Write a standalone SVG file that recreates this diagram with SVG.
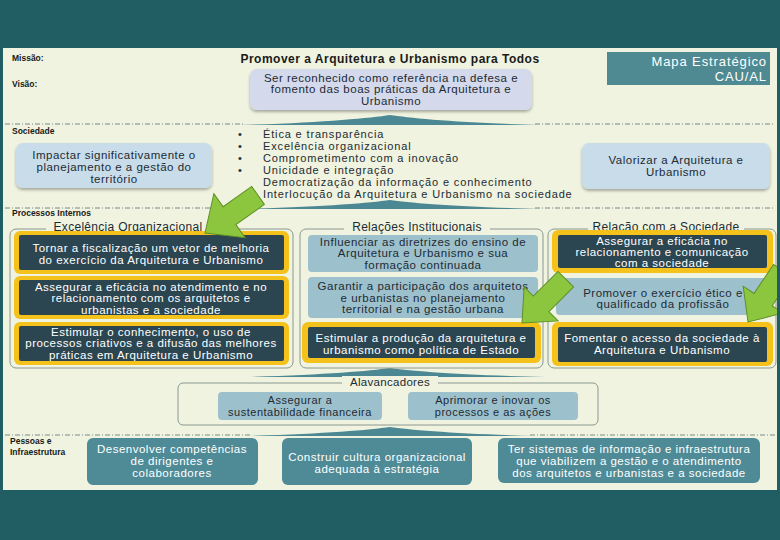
<svg xmlns="http://www.w3.org/2000/svg" width="780" height="540" viewBox="0 0 780 540">
<defs>
<style>
text{font-family:"Liberation Sans",Arial,sans-serif}
.lab{font-size:8.5px;font-weight:bold;fill:#1a1a1a}
.t{font-size:11.5px;letter-spacing:0.5px;text-anchor:middle}
.w{fill:#ffffff}
.d{fill:#1d2b33}
.dk{fill:#2c4651}
.yl{fill:#f4c21b}
.lb{fill:#9dc0cd}
.bt{fill:#4f8b97}
.fr{fill:none;stroke:#8a9890;stroke-width:1}
.sw{fill:#4b8893}
.ds{stroke:#7a8a86;stroke-width:1;stroke-dasharray:5 2 1 2;fill:none}
.ar{fill:#8cc63f;stroke:#5e8f25;stroke-width:1}
.bul{font-size:11px;letter-spacing:0.85px;fill:#1d2b33}
.fl{font-size:12px;letter-spacing:0.3px;fill:#1d2b33;text-anchor:middle}
.mp{font-size:13px;letter-spacing:0.9px;fill:#fff;text-anchor:end}
</style>
<filter id="sh" x="-10%" y="-10%" width="120%" height="130%">
<feDropShadow dx="0" dy="2" stdDeviation="1.5" flood-color="#000" flood-opacity="0.3"/>
</filter>
<clipPath id="pc"><rect x="3" y="48" width="774" height="442"/></clipPath>
</defs>
<rect width="780" height="540" fill="#215e63"/>
<rect x="3" y="48" width="774" height="442" fill="#eff3df"/>

<g id="header">
<text class="lab" x="12" y="61">Missão:</text>
<text class="lab" x="12" y="87">Visão:</text>
<text x="390" y="63" style="font-size:12px;font-weight:bold;letter-spacing:0.5px;text-anchor:middle;fill:#1a1a1a">Promover a Arquitetura e Urbanismo para Todos</text>
</g>
<g id="visao">
<rect x="250" y="69" width="282" height="41" rx="7" fill="#d4d9ec" filter="url(#sh)"/>
<text class="t d" x="391" y="82">Ser reconhecido como referência na defesa e</text>
<text class="t d" x="391" y="93">fomento das boas práticas da Arquitetura e</text>
<text class="t d" x="391" y="105">Urbanismo</text>
</g>
<g id="mapa">
<rect x="607" y="52" width="163" height="33" fill="#4f8a93"/>
<text class="mp" x="767" y="66">Mapa Estratégico</text>
<text class="mp" x="767" y="80.5">CAU/AL</text>
</g>

<g id="separators">
<line class="ds" x1="5" y1="124" x2="245" y2="124"/>
<line class="ds" x1="535" y1="124" x2="775" y2="124"/>
<path class="sw" d="M240,125 C320,123 370,118 390,115 C410,118 460,123 540,125 Z"/>
<line class="ds" x1="5" y1="208" x2="245" y2="208"/>
<line class="ds" x1="535" y1="208" x2="775" y2="208"/>
<path class="sw" d="M240,209 C320,207 370,203 390,200 C410,203 460,207 540,209 Z"/>
<path class="sw" d="M245,377 C320,375 370,371 390,368 C410,371 460,375 545,377 Z"/>
<line class="ds" x1="5" y1="435" x2="250" y2="435"/>
<line class="ds" x1="530" y1="435" x2="775" y2="435"/>
<path class="sw" d="M245,436 C320,434 370,430 390,427 C410,430 460,434 535,436 Z"/>
</g>

<g id="sociedade">
<text class="lab" x="12" y="134">Sociedade</text>
</g>
<g id="impactar">
<rect x="16" y="143" width="196" height="45" rx="7" fill="#c8dcea" filter="url(#sh)"/>
<text class="t d" x="114" y="159">Impactar significativamente o</text>
<text class="t d" x="114" y="171">planejamento e a gestão do</text>
<text class="t d" x="114" y="183">território</text>
</g>
<g id="valores">
<text class="bul" x="238" y="138">•</text>
<text class="bul" x="238" y="150">•</text>
<text class="bul" x="238" y="162">•</text>
<text class="bul" x="238" y="174">•</text>
<text class="bul" x="263" y="138">Ética e transparência</text>
<text class="bul" x="263" y="150">Excelência organizacional</text>
<text class="bul" x="263" y="162">Comprometimento com a inovação</text>
<text class="bul" x="263" y="174">Unicidade e integração</text>
<text class="bul" x="263" y="186">Democratização da informação e conhecimento</text>
<text class="bul" x="263" y="198">Interlocução da Arquitetura e Urbanismo na sociedade</text>
</g>
<g id="valorizar">
<rect x="582" y="143" width="188" height="46" rx="7" fill="#c8dcea" filter="url(#sh)"/>
<text class="t d" x="676" y="164">Valorizar a Arquitetura e</text>
<text class="t d" x="676" y="176">Urbanismo</text>
</g>

<text class="lab" x="12" y="216">Processos Internos</text>

<g id="excelencia">
<rect class="fr" x="10" y="229" width="283" height="139" rx="6"/>
<rect x="46" y="221" width="164" height="12" fill="#eff3df"/>
<text class="fl" x="128" y="231">Excelência Organizacional</text>
</g>
<g id="e1">
<rect class="yl" x="14" y="231" width="275" height="43" rx="6"/>
<rect class="dk" x="19" y="235" width="265" height="35" rx="2"/>
<text class="t w" x="151" y="252">Tornar a fiscalização um vetor de melhoria</text>
<text class="t w" x="151" y="264">do exercício da Arquitetura e Urbanismo</text>
</g>
<g id="e2">
<rect class="yl" x="14" y="276" width="275" height="43" rx="6"/>
<rect class="dk" x="19" y="280" width="265" height="35" rx="2"/>
<text class="t w" x="151" y="291">Assegurar a eficácia no atendimento e no</text>
<text class="t w" x="151" y="302">relacionamento com os arquitetos e</text>
<text class="t w" x="151" y="314">urbanistas e a sociedade</text>
</g>
<g id="e3">
<rect class="yl" x="14" y="322" width="275" height="43" rx="6"/>
<rect class="dk" x="19" y="326" width="265" height="35" rx="2"/>
<text class="t w" x="151" y="336">Estimular o conhecimento, o uso de</text>
<text class="t w" x="151" y="347">processos criativos e a difusão das melhores</text>
<text class="t w" x="151" y="359">práticas em Arquitetura e Urbanismo</text>
</g>

<g id="relacoes">
<rect class="fr" x="300" y="229" width="243" height="139" rx="6"/>
<rect x="344" y="221" width="146" height="12" fill="#eff3df"/>
<text class="fl" x="417" y="231">Relações Institucionais</text>
</g>
<g id="r1">
<rect class="lb" x="308" y="235" width="230" height="37" rx="4"/>
<text class="t d" x="423" y="246">Influenciar as diretrizes do ensino de</text>
<text class="t d" x="423" y="257">Arquitetura e Urbanismo e sua</text>
<text class="t d" x="423" y="269">formação continuada</text>
</g>
<g id="r2">
<rect class="lb" x="308" y="277" width="230" height="41" rx="4"/>
<text class="t d" x="423" y="290">Garantir a participação dos arquitetos</text>
<text class="t d" x="423" y="302">e urbanistas no planejamento</text>
<text class="t d" x="423" y="313">territorial e na gestão urbana</text>
</g>
<g id="r3">
<rect class="yl" x="302" y="322" width="239" height="41" rx="6"/>
<rect class="dk" x="308" y="327" width="227" height="31" rx="2"/>
<text class="t w" x="421" y="342">Estimular a produção da arquitetura e</text>
<text class="t w" x="421" y="354">urbanismo como política de Estado</text>
</g>

<g id="relacao">
<rect class="fr" x="548" y="229" width="228" height="139" rx="6"/>
<rect x="588" y="221" width="156" height="12" fill="#eff3df"/>
<text class="fl" x="666" y="231">Relação com a Sociedade</text>
</g>
<g id="s1">
<rect class="yl" x="552" y="230" width="221" height="43" rx="6"/>
<rect class="dk" x="558" y="235" width="209" height="33" rx="2"/>
<text class="t w" x="662" y="245">Assegurar a eficácia no</text>
<text class="t w" x="662" y="256">relacionamento e comunicação</text>
<text class="t w" x="662" y="267">com a sociedade</text>
</g>
<g id="s2">
<rect class="lb" x="556" y="278" width="214" height="37" rx="4"/>
<text class="t d" x="663" y="297">Promover o exercício ético e</text>
<text class="t d" x="663" y="308">qualificado da profissão</text>
</g>
<g id="s3">
<rect class="yl" x="552" y="322" width="221" height="44" rx="6"/>
<rect class="dk" x="558" y="327" width="209" height="35" rx="2"/>
<text class="t w" x="662" y="342">Fomentar o acesso da sociedade à</text>
<text class="t w" x="662" y="354">Arquitetura e Urbanismo</text>
</g>

<g id="connectors" clip-path="url(#pc)">
<polygon class="ar" points="0,-11 35,-11 35,-27 65,0 35,27 35,11 0,11" transform="translate(205,233) rotate(144.7) translate(-65,0)"/>
<polygon class="ar" points="0,-11 35,-11 35,-24 62,0 35,24 35,11 0,11" transform="translate(522,323) rotate(135) translate(-62,0)"/>
<polygon class="ar" points="0,-11 35,-11 35,-24 62,0 35,24 35,11 0,11" transform="translate(748,322) rotate(124) translate(-62,0)"/>
</g>

<g id="alavancadores">
<rect class="fr" x="178" y="383" width="420" height="42" rx="5"/>
<rect x="342" y="376" width="96" height="12" fill="#eff3df"/>
<text class="fl" x="390" y="386" style="font-size:11.5px">Alavancadores</text>
</g>
<g id="a1">
<rect class="lb" x="218" y="392" width="164" height="28" rx="4"/>
<text class="t d" x="300" y="404" style="font-size:11px">Assegurar a</text>
<text class="t d" x="300" y="416" style="font-size:11px">sustentabilidade financeira</text>
</g>
<g id="a2">
<rect class="lb" x="408" y="392" width="170" height="28" rx="4"/>
<text class="t d" x="493" y="404" style="font-size:11px">Aprimorar e inovar os</text>
<text class="t d" x="493" y="416" style="font-size:11px">processos e as ações</text>
</g>

<g id="pessoas">
<text class="lab" x="10" y="444">Pessoas e</text>
<text class="lab" x="10" y="455">Infraestrutura</text>
</g>
<g id="b1">
<rect class="bt" x="87" y="438" width="171" height="47" rx="6"/>
<text class="t w" x="172" y="453">Desenvolver competências</text>
<text class="t w" x="172" y="465">de dirigentes e</text>
<text class="t w" x="172" y="477">colaboradores</text>
</g>
<g id="b2">
<rect class="bt" x="282" y="438" width="190" height="47" rx="6"/>
<text class="t w" x="377" y="461">Construir cultura organizacional</text>
<text class="t w" x="377" y="473">adequada à estratégia</text>
</g>
<g id="b3">
<rect class="bt" x="498" y="438" width="262" height="45" rx="6"/>
<text class="t w" x="629" y="453">Ter sistemas de informação e infraestrutura</text>
<text class="t w" x="629" y="465">que viabilizem a gestão e o atendimento</text>
<text class="t w" x="629" y="477">dos arquitetos e urbanistas e a sociedade</text>
</g>
</svg>
